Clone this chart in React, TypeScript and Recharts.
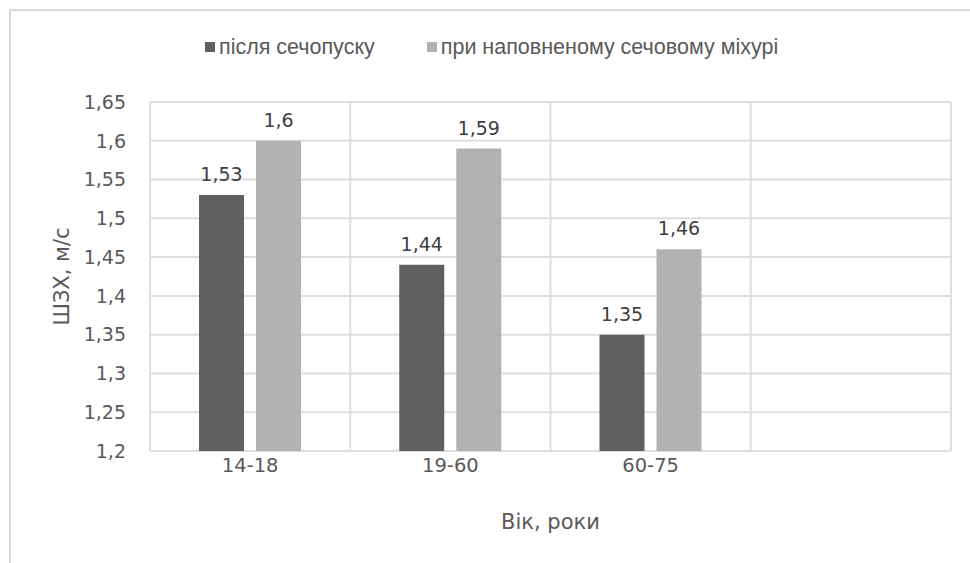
import React from "react";
import {
  BarChart,
  Bar,
  XAxis,
  YAxis,
  CartesianGrid,
  Legend,
  LabelList,
} from "recharts";

// chart values
const categories = ["14-18", "19-60", "60-75", ""];
const afterDrain = [1.53, 1.44, 1.35, null];
const fullBladder = [1.6, 1.59, 1.46, null];
const yTicks = [1.2, 1.25, 1.3, 1.35, 1.4, 1.45, 1.5, 1.55, 1.6, 1.65];

const seriesKeys = ["after", "full"];
const seriesNames = {
  after: "після сечопуску",
  full: "при наповненому сечовому міхурі",
};

const DARK = "#5f5f5f";
const LIGHT = "#b2b2b2";
const GRID = "#dedede";
const TEXT = "#595959";

const data = categories.map((name, i) => ({
  name,
  after: afterDrain[i],
  full: fullBladder[i],
}));

const fmt = (v: any) =>
  v == null ? "" : String(Number(Number(v).toFixed(2))).replace(".", ",");

// Legend drawn as plain html, the way excel puts it above the plot
const LegendContent = ({ payload }: any) => {
  // keep series order (recharts sorts legend items by name otherwise)
  const items = [...(payload || [])].sort(
    (a: any, b: any) =>
      seriesKeys.indexOf(a.dataKey) - seriesKeys.indexOf(b.dataKey)
  );
  return (
    <div
      style={{
        display: "flex",
        alignItems: "center",
        fontFamily: "'Liberation Sans Narrow', 'Liberation Sans', sans-serif",
        fontSize: 21.5,
        color: TEXT,
        lineHeight: "24px",
      }}
    >
      {items.map((p: any, i: number) => (
        <div
          key={`leg-${i}`}
          style={{ display: "flex", alignItems: "center", marginRight: 52 }}
        >
          <span
            style={{
              display: "inline-block",
              width: 10,
              height: 10,
              background: p.color,
              marginRight: 4,
            }}
          />
          <span>{p.value}</span>
        </div>
      ))}
    </div>
  );
};

export default function App() {
  return (
    <div
      style={{
        position: "absolute",
        left: 0,
        top: 0,
        width: 970,
        height: 563,
        background: "#fff",
      }}
    >
      <div
        style={{
          position: "absolute",
          left: 9,
          top: 9,
          width: 961,
          height: 554,
          borderTop: "2px solid #d9d9d9",
          borderLeft: "2px solid #d9d9d9",
          boxSizing: "border-box",
        }}
      />
      <BarChart
        width={970}
        height={563}
        data={data}
        margin={{ top: 102, right: 19, left: 52, bottom: 82 }}
        barCategoryGap={49}
        barGap={12}
        style={{ position: "absolute", left: 0, top: 0 }}
      >
        <CartesianGrid
          stroke={GRID}
          strokeWidth={2}
          verticalCoordinatesGenerator={({ offset }: any) =>
            categories
              .map((_, i) => offset.left + (i * offset.width) / categories.length)
              .concat([offset.left + offset.width])
          }
        />
        <XAxis
          dataKey="name"
          axisLine={false}
          tickLine={false}
          tickSize={0}
          tickMargin={7}
          tick={{ fill: TEXT, fontSize: 19.5, fontFamily: "DejaVu Sans" }}
          label={{
            value: "Вік, роки",
            position: "bottom",
            offset: 33,
            fill: TEXT,
            fontSize: 21,
            fontFamily: "DejaVu Sans",
          }}
        />
        <YAxis
          type="number"
          domain={[1.2, 1.65]}
          ticks={yTicks}
          width={98}
          axisLine={false}
          tickLine={false}
          tickSize={0}
          tickMargin={24}
          tickFormatter={fmt}
          tick={{ fill: TEXT, fontSize: 19, fontFamily: "DejaVu Sans" }}
          label={{
            value: "ШЗХ, м/с",
            angle: -90,
            position: "insideLeft",
            offset: 10,
            fill: TEXT,
            fontSize: 21,
            fontFamily: "DejaVu Sans",
            style: { textAnchor: "middle" },
          }}
        />
        <Legend
          verticalAlign="middle"
          align="center"
          layout="horizontal"
          content={<LegendContent />}
          wrapperStyle={{ top: 35, left: 205, width: "auto", height: "auto" }}
        />
        <Bar
          dataKey="after"
          name={seriesNames.after}
          fill={DARK}
          isAnimationActive={false}
        >
          <LabelList
            dataKey="after"
            position="top"
            offset={14}
            formatter={fmt}
            fill="#404040"
            fontSize={19}
            fontFamily="DejaVu Sans"
          />
        </Bar>
        <Bar
          dataKey="full"
          name={seriesNames.full}
          fill={LIGHT}
          isAnimationActive={false}
        >
          <LabelList
            dataKey="full"
            position="top"
            offset={14}
            formatter={fmt}
            fill="#404040"
            fontSize={19}
            fontFamily="DejaVu Sans"
          />
        </Bar>
      </BarChart>
    </div>
  );
}
